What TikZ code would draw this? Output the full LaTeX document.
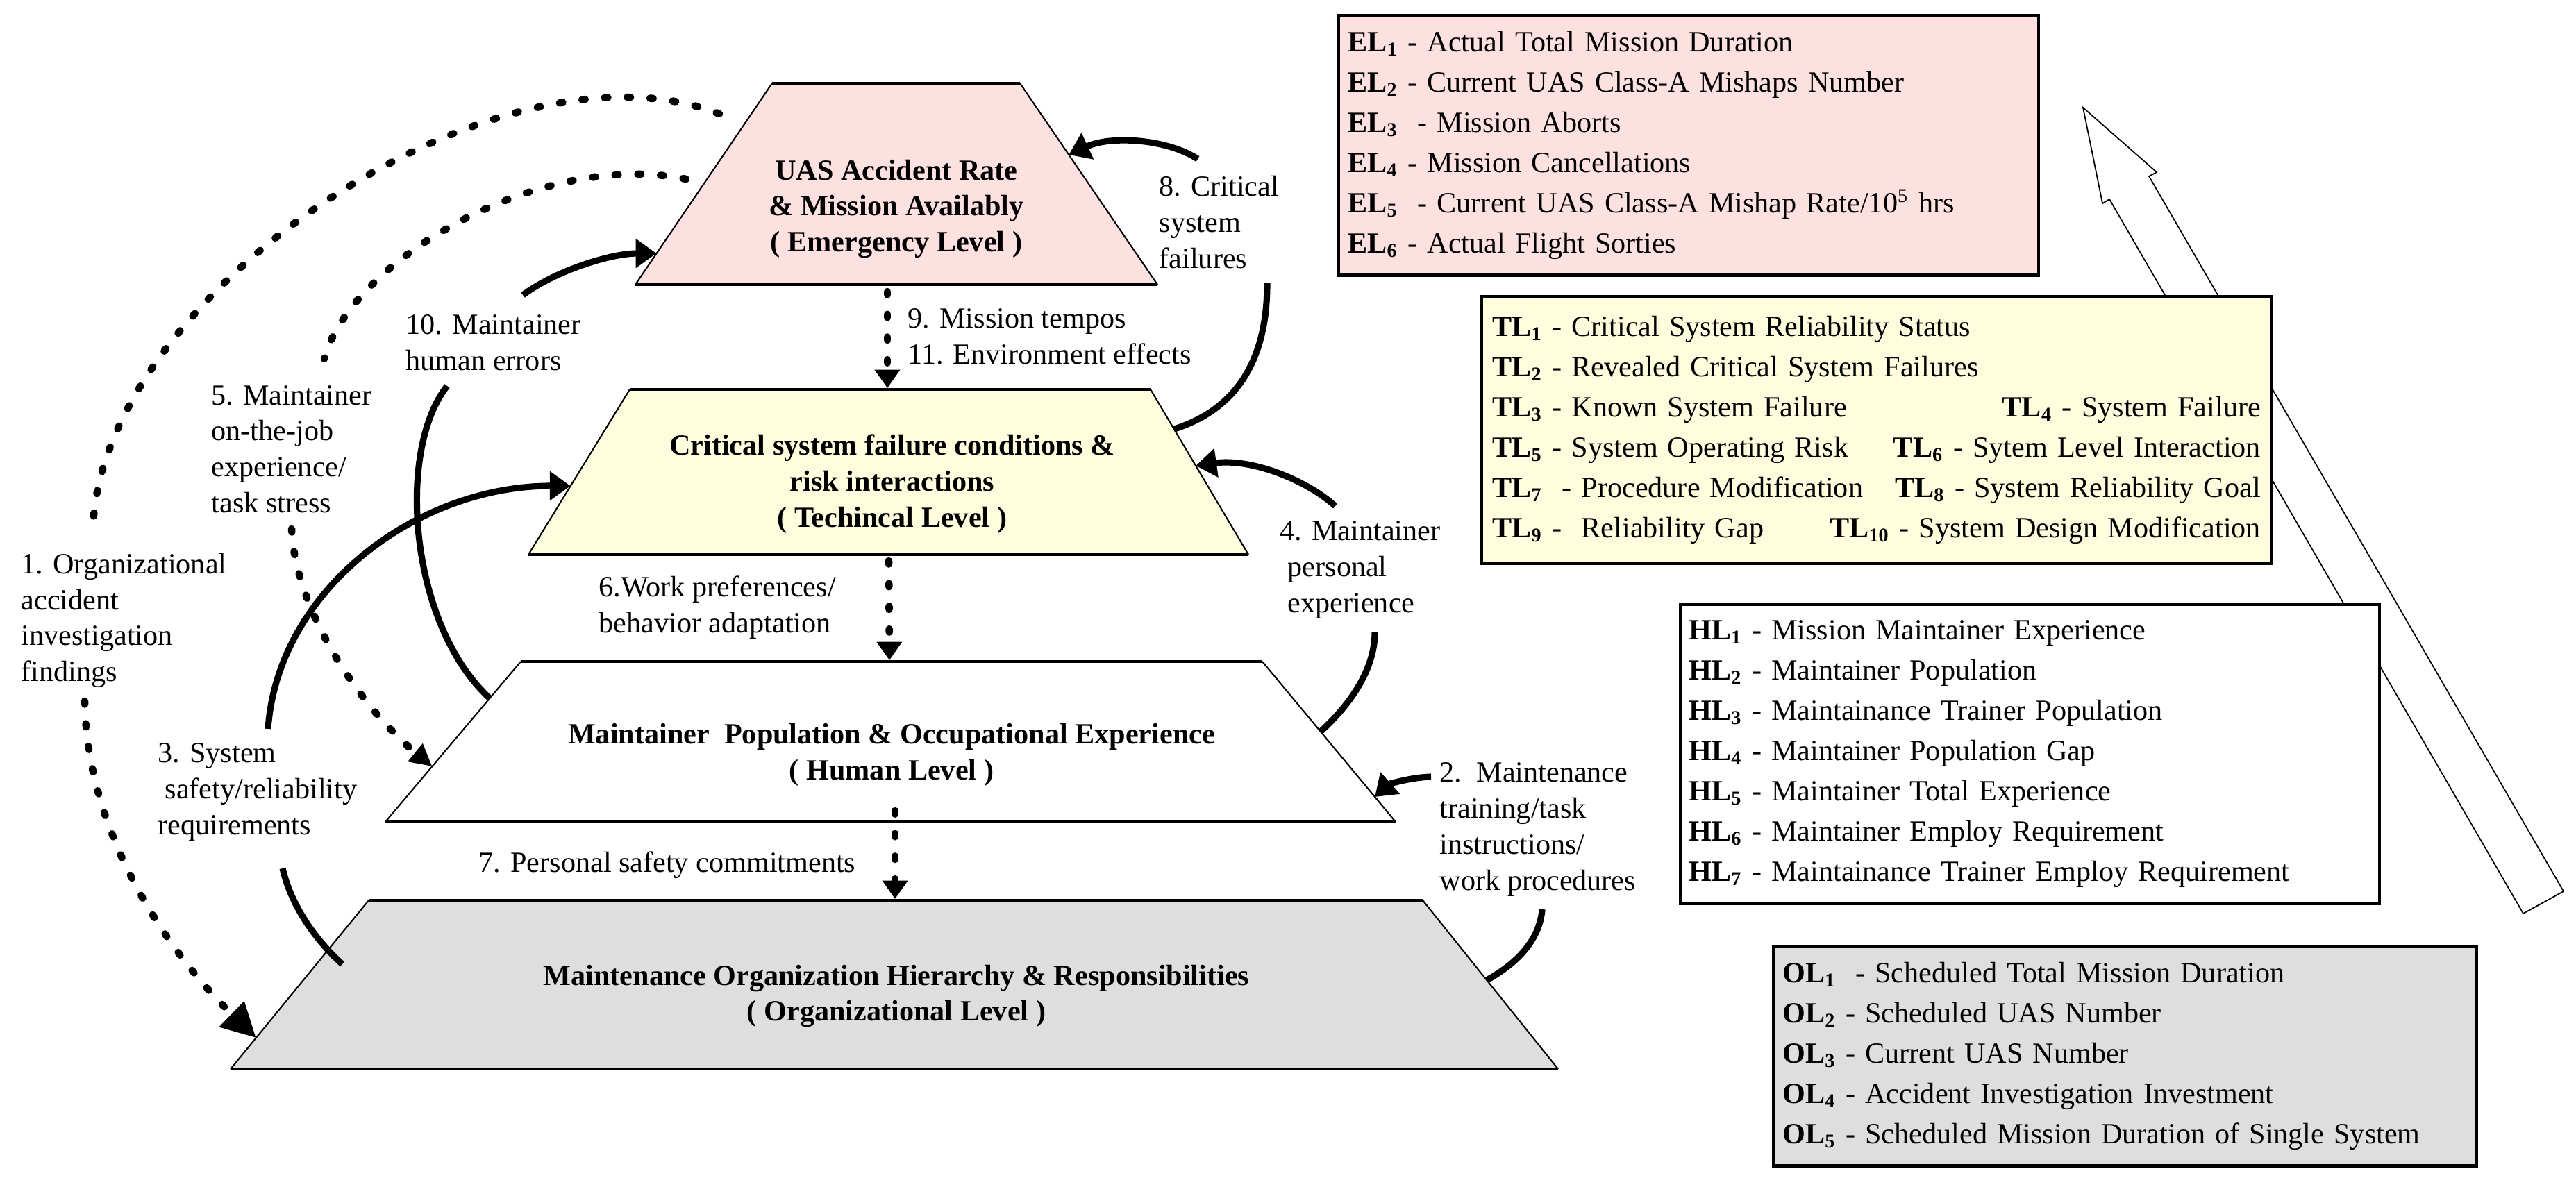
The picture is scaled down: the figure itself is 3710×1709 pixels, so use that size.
\documentclass[tikz,border=0pt]{standalone}
\usepackage{fontspec}
\setmainfont{Liberation Serif}
\usetikzlibrary{arrows.meta,calc}
\definecolor{pinklevel}{RGB}{253,224,224}
\definecolor{yellowlevel}{RGB}{255,253,222}
\definecolor{graylevel}{RGB}{222,222,222}
\newcommand{\vn}[2]{\textbf{#1\textsubscript{#2}}}

\begin{document}
\begin{tikzpicture}[x=0.01cm,y=-0.01cm,
    edge/.style={line width=1.2pt},
    side/.style={line width=0.6pt},
    leveltext/.style={font=\fontsize{12}{14.7}\selectfont\bfseries,align=center,inner sep=0pt},
    lab/.style={font=\fontsize{12}{14.7}\selectfont,align=left,inner sep=0pt,anchor=west},
    listbox/.style={draw,line width=1.3pt,font=\fontsize{12}{16.5}\selectfont,align=left,anchor=north west,inner ysep=0pt},
    flowtail/.style={line width=2.6pt},
    flow/.style={flowtail,-{Triangle[length=8.5pt,width=11.5pt]}},
    infl/.style={line width=3pt,line cap=round,dash pattern=on 1.3pt off 8pt},
    down/.style={infl,-{Triangle[length=7.5pt,width=10pt]}}]
    \useasboundingbox (0,0) rectangle (3710,1709);
    \foreach \n/\xtl/\xtr/\yt/\xbl/\xbr/\yb/\c in {E/1112/1469/120/915/1667/410/pinklevel,
      T/907/1657/561/761/1798/799/yellowlevel, H/750/1818/953/555/2010/1184/white,
      O/531/2049/1297/332/2244/1540/graylevel}{
      \coordinate (\n-tl) at (\xtl,\yt);
      \coordinate (\n-tr) at (\xtr,\yt);
      \coordinate (\n-bl) at (\xbl,\yb);
      \coordinate (\n-br) at (\xbr,\yb);
      \fill[\c] (\n-tl) -- (\n-tr) -- (\n-br) -- (\n-bl) -- cycle;
      \draw[edge] (\n-tl) -- (\n-tr) (\n-bl) -- (\n-br);
      \draw[side] (\n-tl) -- (\n-bl) (\n-tr) -- (\n-br);
    }
    \node[leveltext] (E-txt) at (1291,301) {UAS Accident Rate\\\& Mission Availably\\( Emergency Level )};
    \node[leveltext] (T-txt) at (1285,697) {Critical system failure conditions \&\\risk interactions\\( Techincal Level )};
    \node[leveltext] (H-txt) at (1284,1087) {Maintainer\ \ Population \& Occupational Experience\\( Human Level )};
    \node[leveltext] (O-txt) at (1291,1435) {Maintenance Organization Hierarchy \& Responsibilities\\( Organizational Level )};

    \node[lab] (lab1) at (30,894) {1. Organizational\\accident\\investigation\\findings};
    \node[lab] (lab5) at (304,647) {5. Maintainer\\on-the-job\\experience/\\task stress};
    \node[lab] (lab10) at (584,494) {10. Maintainer\\human errors};
    \node[lab] (lab8) at (1669,320) {8. Critical\\system\\failures};
    \node[lab] (lab9) at (1307,485) {9. Mission tempos\\11. Environment effects};
    \node[lab] (lab6) at (862,875) {6.Work preferences/\\behavior adaptation};
    \node[lab] (lab4) at (1843,821) {4. Maintainer\\\hspace*{0.11cm}personal\\\hspace*{0.11cm}experience};
    \node[lab] (lab3) at (227,1141) {3. System\\\hspace*{0.1cm}safety/reliability\\requirements};
    \node[lab] (lab2) at (2073,1195) {2.\ \ Maintenance\\training/task\\instructions/\\work procedures};
    \node[lab] (lab7) at (689,1246) {7. Personal safety commitments};

    \coordinate (E-l10) at ($(E-tl)!0.845!(E-bl)$);
    \coordinate (E-r8) at ($(E-tr)!0.355!(E-br)$);
    \coordinate (T-l3) at ($(T-tl)!0.584!(T-bl)$);
    \coordinate (T-r4) at ($(T-tr)!0.462!(T-br)$);
    \coordinate (T-r8) at ($(T-tr)!0.24!(T-br)$);
    \coordinate (H-l10) at ($(H-tl)!0.229!(H-bl)$);
    \coordinate (H-l5) at ($(H-tl)!0.654!(H-bl)$);
    \coordinate (H-r4) at ($(H-tr)!0.437!(H-br)$);
    \coordinate (H-r2) at ($(H-tr)!0.844!(H-br)$);
    \coordinate (O-l1) at ($(O-tl)!0.815!(O-bl)$);
    \coordinate (O-r2) at ($(O-tr)!0.473!(O-br)$);
    \coordinate (O-l3) at (493,1389);
    \coordinate (d1a) at (1036,164);
    \coordinate (d1b) at (134,757);
    \coordinate (d1c) at (122,1010);
    \coordinate (d5a) at (988,258);
    \coordinate (d5b) at (467,517);
    \coordinate (d5c) at (420,762);
    \coordinate (c10a) at (644,556);
    \coordinate (c10b) at (753,425);
    \coordinate (c3a) at (407,1251);
    \coordinate (c3b) at (386,1050);
    \coordinate (c8a) at (1825,408);
    \coordinate (c8b) at (1725,229);
    \coordinate (c4a) at (1980,911);
    \coordinate (c4b) at (1923,729);
    \coordinate (c2a) at (2221,1310);
    \coordinate (c2b) at (2061,1119);
    \coordinate (E-s) at (1278,420);
    \coordinate (T-n) at (1278,559);
    \coordinate (T-s) at (1280,808);
    \coordinate (H-n) at (1281,951);
    \coordinate (H-in) at (1289,1168);
    \coordinate (O-n) at (1289,1295);

    \draw[infl] (d1a) .. controls (720,40) and (150,420) .. (d1b);
    \draw[infl,-{Triangle[length=14pt,width=14pt]}] (d1c) .. controls (125,1200) and (240,1370) .. (O-l1);
    \draw[infl] (d5a) .. controls (780,215) and (505,375) .. (d5b);
    \draw[infl,-{Triangle[length=9pt,width=9pt]}] (d5c) .. controls (425,880) and (520,1020) .. (H-l5);
    \draw[flowtail] (H-l10) .. controls (590,900) and (570,650) .. (c10a);
    \draw[flow] (c10b) .. controls (800,390) and (880,365) .. (E-l10);
    \draw[flowtail] (O-l3) .. controls (450,1350) and (418,1300) .. (c3a);
    \draw[flow] (c3b) .. controls (400,850) and (600,700) .. (T-l3);
    \draw[flowtail] (T-r8) .. controls (1780,590) and (1825,520) .. (c8a);
    \draw[flow] (c8b) .. controls (1680,200) and (1600,195) .. (E-r8);
    \draw[flowtail] (H-r4) .. controls (1950,1010) and (1980,960) .. (c4a);
    \draw[flow] (c4b) .. controls (1880,690) and (1800,660) .. (T-r4);
    \draw[flowtail] (O-r2) .. controls (2190,1385) and (2218,1350) .. (c2a);
    \draw[flow] (c2b) .. controls (2030,1120) and (2000,1130) .. (H-r2);
    \draw[down] (E-s) -- (T-n);
    \draw[down] (T-s) -- (H-n);
    \draw[down] (H-in) -- (O-n);

    \draw[line width=0.5pt,fill=white] (3692,1284) -- (3095,254) -- (3106,248) -- (3000,155)
      -- (3028,293) -- (3038,287) -- (3634,1316) -- cycle;

    \node[listbox,fill=pinklevel,text width=9.8cm,inner xsep=0.14cm,minimum height=3.74cm] (EL) at (1925,20) {
      \vn{EL}{1} - Actual Total Mission Duration\\
      \vn{EL}{2} - Current UAS Class-A Mishaps Number\\
      \vn{EL}{3}\ \ - Mission Aborts\\
      \vn{EL}{4} - Mission Cancellations\\
      \vn{EL}{5}\ \ - Current UAS Class-A Mishap Rate/10\textsuperscript{5} hrs\\
      \vn{EL}{6} - Actual Flight Sorties};
    \node[listbox,fill=yellowlevel,text width=11.06cm,inner xsep=0.16cm,minimum height=3.84cm] (TL) at (2131,425) {
      \vn{TL}{1} - Critical System Reliability Status\\
      \vn{TL}{2} - Revealed Critical System Failures\\
      \vn{TL}{3} - Known System Failure\hfill\vn{TL}{4} - System Failure\\
      \vn{TL}{5} - System Operating Risk\hfill\vn{TL}{6} - Sytem Level Interaction\\
      \vn{TL}{7}\ \ - Procedure Modification\hfill\vn{TL}{8} - System Reliability Goal\\
      \vn{TL}{9} -\ \ Reliability Gap\hfill\vn{TL}{10} - System Design Modification};
    \node[listbox,fill=white,text width=9.82cm,inner xsep=0.12cm,minimum height=4.31cm] (HL) at (2418,868) {
      \vn{HL}{1} - Mission Maintainer Experience\\
      \vn{HL}{2} - Maintainer Population\\
      \vn{HL}{3} - Maintainance Trainer Population\\
      \vn{HL}{4} - Maintainer Population Gap\\
      \vn{HL}{5} - Maintainer Total Experience\\
      \vn{HL}{6} - Maintainer Employ Requirement\\
      \vn{HL}{7} - Maintainance Trainer Employ Requirement};
    \node[listbox,fill=graylevel,text width=9.86cm,inner xsep=0.13cm,minimum height=3.16cm] (OL) at (2552,1361) {
      \vn{OL}{1}\ \ - Scheduled Total Mission Duration\\
      \vn{OL}{2} - Scheduled UAS Number\\
      \vn{OL}{3} - Current UAS Number\\
      \vn{OL}{4} - Accident Investigation Investment\\
      \vn{OL}{5} - Scheduled Mission Duration of Single System};
\end{tikzpicture}
\end{document}
